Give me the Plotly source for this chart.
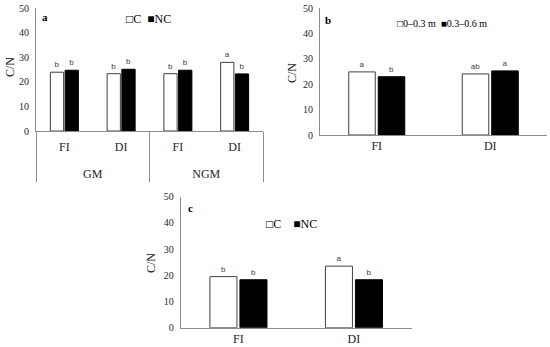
import plotly.graph_objects as go

# ---------------- data ----------------
# panel a
a_groups = ["GM", "GM", "NGM", "NGM"]
a_irrig = ["FI", "DI", "FI", "DI"]
a_C = [23.9, 23.3, 23.3, 27.9]
a_NC = [24.7, 25.1, 24.7, 23.2]
a_C_sig = ["b", "b", "b", "a"]
a_NC_sig = ["b", "b", "b", "b"]
a_names = ["C", "NC"]

# panel b
b_irrig = ["FI", "DI"]
b_top = [24.9, 24.1]
b_sub = [23.0, 25.3]
b_top_sig = ["a", "ab"]
b_sub_sig = ["b", "a"]
b_names = ["0–0.3 m", "0.3–0.6 m"]

# panel c
c_irrig = ["FI", "DI"]
c_C = [19.5, 23.5]
c_NC = [18.3, 18.3]
c_C_sig = ["b", "a"]
c_NC_sig = ["b", "b"]
c_names = ["C", "NC"]

y_ticks = [0, 10, 20, 30, 40, 50]
y_title = "C/N"

# ---------------- styles ----------------
SERIF = "Liberation Serif, Times New Roman, serif"
SANS = "Liberation Sans, Arial, sans-serif"
AXIS_COL = "#8c8c8c"
TXT_COL = "#262626"
OPEN = dict(color="white", line=dict(color="#404040", width=1))
FILLED = dict(color="black", line=dict(color="black", width=1))
SIG_FONT = dict(family=SANS, size=8, color="#404040")

fig = go.Figure()

def add_pair(x, v1, v2, s1, s2, names, xa, ya):
    for v, s, name, mk in [(v1, s1, names[0], OPEN), (v2, s2, names[1], FILLED)]:
        fig.add_trace(go.Bar(x=x, y=v, name=name, marker=mk, text=s,
                             textposition="outside", outsidetextfont=SIG_FONT,
                             textfont=SIG_FONT, cliponaxis=False,
                             xaxis=xa, yaxis=ya, showlegend=False))

# group labels are set one line lower, as in the reference
a_group_labels = ["<br>" + g for g in a_groups]
add_pair([a_group_labels, a_irrig], a_C, a_NC, a_C_sig, a_NC_sig, a_names, "x", "y")
add_pair(b_irrig, b_top, b_sub, b_top_sig, b_sub_sig, b_names, "x2", "y2")
add_pair(c_irrig, c_C, c_NC, c_C_sig, c_NC_sig, c_names, "x3", "y3")

W, H = 550, 347

def px_x(p):
    return p / W

def px_y(p):
    return 1 - p / H

def yax(**kw):
    d = dict(range=[0, 50], tickvals=y_ticks, showline=True, linecolor=AXIS_COL,
             linewidth=1, ticks="", showgrid=False, zeroline=False, automargin=False,
             tickfont=dict(family=SERIF, size=10, color=TXT_COL),
             ticklabelstandoff=4)
    d.update(kw)
    return d

def xax(**kw):
    d = dict(showline=True, linecolor=AXIS_COL, linewidth=1, ticks="",
             showgrid=False, automargin=False,
             tickfont=dict(family=SERIF, size=12, color=TXT_COL))
    d.update(kw)
    return d

fig.update_layout(
    width=W, height=H, autosize=False,
    margin=dict(l=0, r=0, t=0, b=0),
    paper_bgcolor="white", plot_bgcolor="white",
    barmode="group", bargap=0.48, bargroupgap=0.1,
    showlegend=False,
    xaxis=xax(type="multicategory", domain=[px_x(36), px_x(263)],
              anchor="y", range=[-0.5, 3.5], showdividers=True,
              dividercolor=AXIS_COL, dividerwidth=1, ticklabelstandoff=5),
    yaxis=yax(domain=[px_y(131), px_y(8)], anchor="x"),
    xaxis2=xax(type="category", domain=[px_x(320), px_x(547)],
               anchor="y2", range=[-0.5, 1.5]),
    yaxis2=yax(domain=[px_y(135), px_y(8.3)], anchor="x2"),
    xaxis3=xax(type="category", domain=[px_x(180.7), px_x(411.7)],
               anchor="y3", range=[-0.5, 1.5]),
    yaxis3=yax(domain=[px_y(327.7), px_y(196.7)], anchor="x3"),
)

def legend_text(names, gap):
    sp = "&nbsp;" * gap
    return f"□{names[0]}{sp}■{names[1]}"

ann = []
# y-axis titles
for x, y in [(10, 67), (292, 73), (151, 263)]:
    ann.append(dict(text=y_title, x=px_x(x), y=px_y(y), xref="paper", yref="paper",
                    showarrow=False, textangle=-90, xanchor="center", yanchor="middle",
                    font=dict(family=SERIF, size=12, color=TXT_COL)))
# panel letters
for letter, x, y in [("a", 45, 17), ("b", 328, 20), ("c", 190, 208)]:
    ann.append(dict(text=f"<b>{letter}</b>", x=px_x(x), y=px_y(y), xref="paper", yref="paper",
                    showarrow=False, xanchor="center", yanchor="middle",
                    font=dict(family=SERIF, size=11, color="black")))
# in-plot legends
for names, x0, y, size, gap in [(a_names, 124, 19, 12, 2), (b_names, 395, 23, 10, 2),
                                (c_names, 264, 224, 12, 4)]:
    ann.append(dict(text=legend_text(names, gap), x=px_x(x0), y=px_y(y), xref="paper",
                    yref="paper", showarrow=False, xanchor="left", yanchor="middle",
                    font=dict(family=SERIF, size=size, color="black")))
fig.update_layout(annotations=ann)

fig.write_html("out.html", config={"displayModeBar": False},
               post_script="document.body.style.margin='0';")
